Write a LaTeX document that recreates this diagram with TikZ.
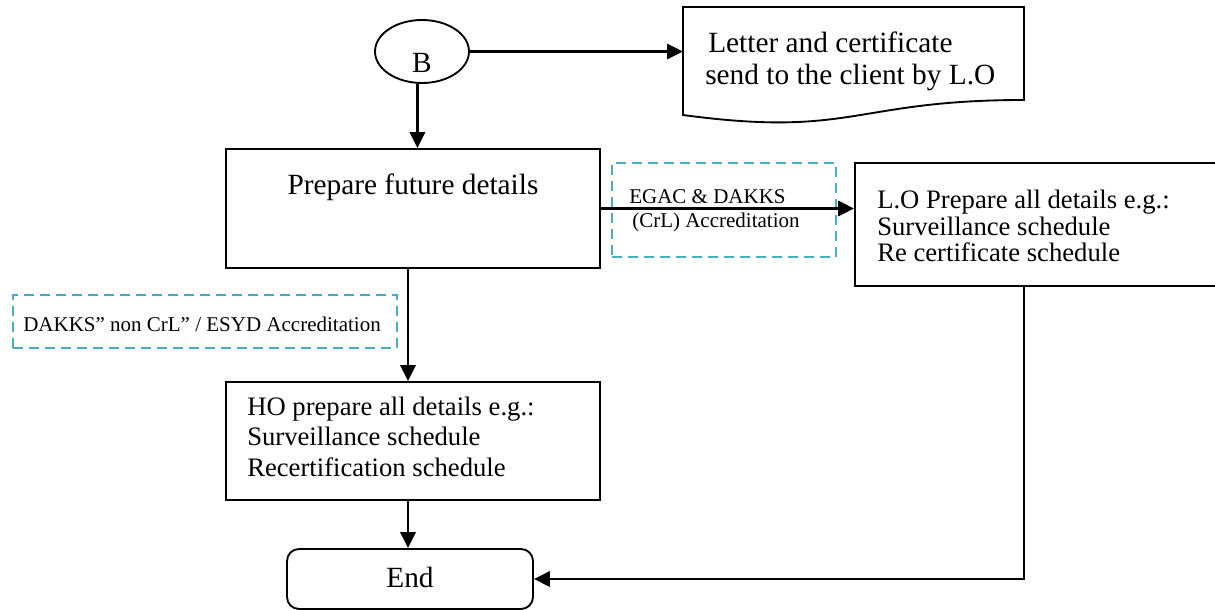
\documentclass[tikz,border=0pt]{standalone}
\usepackage{fontspec}
\setmainfont{Liberation Serif}
\usetikzlibrary{arrows.meta,shapes.geometric,calc}
\definecolor{dashblue}{RGB}{75,172,198}
\tikzset{
  box/.style={draw,line width=1.4pt,inner sep=0pt},
  dbox/.style={draw=dashblue,line width=1.6pt,dash pattern=on 7.5pt off 4.5pt,inner sep=0pt},
  arr/.style={line width=1.7pt,-{Triangle[length=12pt,width=11.5pt]}},
  txt/.style={inner sep=0pt,anchor=base west},
  ctxt/.style={inner sep=0pt,anchor=base},
  big/.style={font=\fontsize{22}{24}\selectfont},
  mid/.style={font=\fontsize{20}{22}\selectfont},
  small/.style={font=\fontsize{15.75}{18}\selectfont},
}
\begin{document}
\begin{tikzpicture}[x=0.75pt,y=-0.75pt]
\clip (0,0) rectangle (1215,610);
\fill[white] (0,0) rectangle (1215,610);

% B connector
\node[ellipse,draw,line width=1.4pt,minimum width=70.5pt,minimum height=47.25pt,inner sep=0pt] (B) at (422,51.5) {};
\node[big,ctxt] (Bt) at (422,73) {B};

% document shape
\draw[line width=1.4pt] (683,7) -- (1024,7) -- (1024,100)
  .. controls (853.5,100) and (853.5,138) .. (683,115) -- cycle;
\coordinate (docW) at (683,51.5);
\node[big,txt] (doc1) at (708,53) {Letter and certificate};
\node[big,txt] (doc2) at (705,85) {send to the client by L.O};

% prepare future details
\node[box,minimum width=280.5pt,minimum height=89.25pt] (prep) at (413,208.5) {};
\node[big,ctxt] (prept) at (413,195) {Prepare future details};

% EGAC dashed label box
\node[dbox,minimum width=168pt,minimum height=70.5pt] (egac) at (724,210) {};
\node[small,txt] (eg1) at (629,203) {EGAC \& DAKKS};
\node[small,txt] (eg2) at (632,227) {(CrL) Accreditation};

% LO box
\node[box,minimum width=277.5pt,minimum height=92.25pt] (lo) at (1040,224.5) {};
\node[mid,txt] (lo1) at (877,208) {L.O Prepare all details e.g.:};
\node[mid,txt] (lo2) at (877,235) {Surveillance schedule};
\node[mid,txt] (lo3) at (877,261) {Re certificate schedule};

% DAKKS dashed label box
\node[dbox,minimum width=288pt,minimum height=39.75pt] (dakks) at (205,321.5) {};
\node[small,txt] (dk1) at (23,331) {DAKKS” non CrL” / ESYD Accreditation};

% HO box
\node[box,minimum width=280.5pt,minimum height=88.5pt] (ho) at (413,441) {};
\node[mid,txt] (ho1) at (247,415) {HO prepare all details e.g.:};
\node[mid,txt] (ho2) at (247,445) {Surveillance schedule};
\node[mid,txt] (ho3) at (247,476) {Recertification schedule};

% End
\node[box,rounded corners=9pt,minimum width=184.5pt,minimum height=45pt] (end) at (410,579) {};
\node[big,ctxt] (endt) at (410,587) {End};

% connectors
\draw[arr] (B.east) -- (docW);
\draw[arr] (B.-98) -- (B.-98 |- prep.north);
\draw[arr] (prep.east) -- (prep.east -| lo.west);
\draw[arr] ([xshift=-3.75pt]prep.south) -- ([xshift=-3.75pt]prep.south |- ho.north);
\draw[arr] ([xshift=-3.75pt]ho.south) -- ([xshift=-3.75pt]ho.south |- end.north);
\draw[arr] ([xshift=-12pt]lo.south) |- (end.east);
\end{tikzpicture}
\end{document}
